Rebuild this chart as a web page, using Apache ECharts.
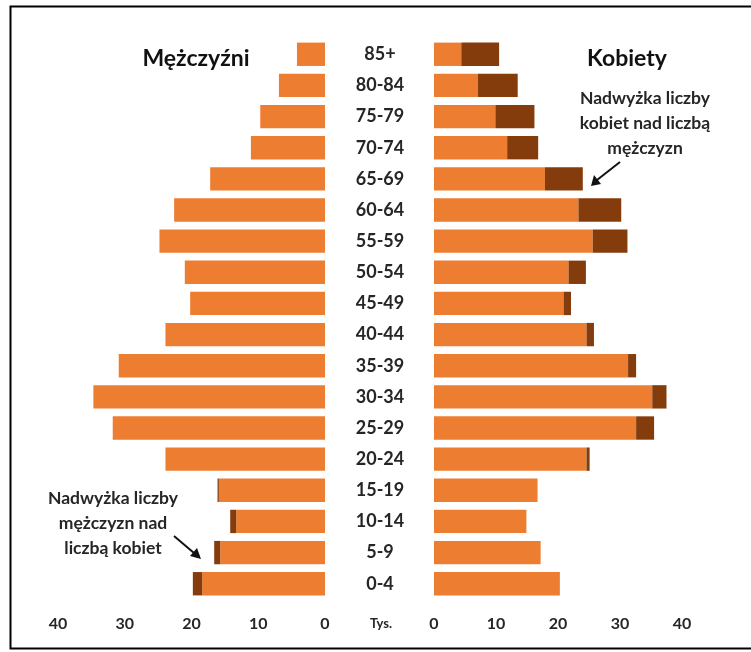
<!DOCTYPE html>
<html>
<head>
<meta charset="utf-8">
<script src="https://cdn.jsdelivr.net/npm/echarts@6/dist/echarts.min.js"></script>
<style>html,body{margin:0;padding:0;background:#fff}#c{width:751px;height:652px}</style>
</head>
<body>
<div id="c"></div>
<script>
// Age groups (top to bottom)
const ageGroups = ['85+','80-84','75-79','70-74','65-69','60-64','55-59','50-54','45-49','40-44','35-39','30-34','25-29','20-24','15-19','10-14','5-9','0-4'];
// Men (thousands): common part and surplus of men over women
const menBase   = [4.2, 6.9, 9.7, 11.1, 17.2, 22.6, 24.8, 21.0, 20.2, 23.9, 30.9, 34.7, 31.8, 23.9, 15.9, 13.3, 15.7, 18.4];
const menExcess = [0, 0, 0, 0, 0, 0, 0, 0, 0, 0, 0, 0, 0, 0, 0.2, 0.9, 0.9, 1.4];
// Women (thousands): common part and surplus of women over men
const womenBase   = [4.4, 7.1, 9.9, 11.8, 17.9, 23.3, 25.6, 21.7, 20.9, 24.6, 31.3, 35.2, 32.6, 24.6, 16.7, 14.9, 17.2, 20.3];
const womenExcess = [6.1, 6.4, 6.3, 5.0, 6.1, 6.9, 5.6, 2.8, 1.2, 1.2, 1.3, 2.3, 2.9, 0.5, 0, 0, 0, 0];
const xTicks = [0, 10, 20, 30, 40];

const ORANGE = '#ED7D31', DARK = '#843C0C', TXT = '#262626';
const FONT = 'Lato, "Open Sans", sans-serif';

const chart = echarts.init(document.getElementById('c'), null, {renderer: 'canvas'});
const xAxisCommon = {
  type: 'value', min: xTicks[0], max: xTicks[xTicks.length - 1], interval: 10,
  axisLine: {show: false}, axisTick: {show: false}, splitLine: {show: false},
  axisLabel: {color: TXT, fontSize: 16, fontWeight: 'bold', fontFamily: FONT, margin: 17}
};
const yAxisCommon = {
  type: 'category', data: ageGroups, inverse: true,
  axisLine: {show: false}, axisTick: {show: false}, splitLine: {show: false}
};
chart.setOption({
  animation: false,
  grid: [
    {left: 58, width: 267, top: 38.7, height: 560.6},
    {left: 434, width: 248, top: 38.7, height: 560.6}
  ],
  xAxis: [
    Object.assign({}, xAxisCommon, {gridIndex: 0, inverse: true}),
    Object.assign({}, xAxisCommon, {gridIndex: 1})
  ],
  yAxis: [
    Object.assign({}, yAxisCommon, {gridIndex: 0, axisLabel: {show: false}}),
    Object.assign({}, yAxisCommon, {gridIndex: 1,
      axisLabel: {color: TXT, fontSize: 18, fontWeight: 'bold', fontFamily: FONT, align: 'center', margin: 54}})
  ],
  series: [
    {type: 'bar', name: 'menBase', xAxisIndex: 0, yAxisIndex: 0, stack: 'm', data: menBase,
     itemStyle: {color: ORANGE}, barCategoryGap: '25%'},
    {type: 'bar', name: 'menExcess', xAxisIndex: 0, yAxisIndex: 0, stack: 'm', data: menExcess,
     itemStyle: {color: DARK}, barCategoryGap: '25%'},
    {type: 'bar', name: 'womenBase', xAxisIndex: 1, yAxisIndex: 1, stack: 'w', data: womenBase,
     itemStyle: {color: ORANGE}, barCategoryGap: '25%'},
    {type: 'bar', name: 'womenExcess', xAxisIndex: 1, yAxisIndex: 1, stack: 'w', data: womenExcess,
     itemStyle: {color: DARK}, barCategoryGap: '25%'}
  ],
  graphic: [
    {type: 'rect', shape: {x: 10.5, y: 6.5, width: 760, height: 642}, style: {fill: null, stroke: '#000', lineWidth: 2}, silent: true},
    {type: 'text', x: 196, y: 59, style: {text: 'Mężczyźni', font: 'bold 23px ' + FONT, fill: '#111', align: 'center', verticalAlign: 'middle'}},
    {type: 'text', x: 643, y: 123, style: {text: 'Kobiety', font: 'bold 23px ' + FONT, fill: '#111', align: 'center', verticalAlign: 'middle'}, x: 627, y: 59},
    {type: 'text', x: 645, y: 123, style: {text: 'Nadwyżka liczby\nkobiet nad liczbą\nmężczyzn', font: 'bold 17.5px ' + FONT, lineHeight: 25, fill: TXT, align: 'center', verticalAlign: 'middle'}},
    {type: 'text', x: 113, y: 523, style: {text: 'Nadwyżka liczby\nmężczyzn nad\nliczbą kobiet', font: 'bold 17.5px ' + FONT, lineHeight: 25, fill: TXT, align: 'center', verticalAlign: 'middle'}},
    {type: 'text', x: 381, y: 624, style: {text: 'Tys.', font: 'bold 13px ' + FONT, fill: TXT, align: 'center', verticalAlign: 'middle'}},
    {type: 'line', shape: {x1: 620, y1: 162, x2: 597, y2: 180}, style: {stroke: '#111', lineWidth: 2}},
    {type: 'polygon', shape: {points: [[591, 186], [594, 175], [601, 184]]}, style: {fill: '#111'}},
    {type: 'line', shape: {x1: 174, y1: 536, x2: 194, y2: 553}, style: {stroke: '#111', lineWidth: 2}},
    {type: 'polygon', shape: {points: [[201, 559], [190, 556], [197, 548]]}, style: {fill: '#111'}}
  ]
});
</script>
</body>
</html>
